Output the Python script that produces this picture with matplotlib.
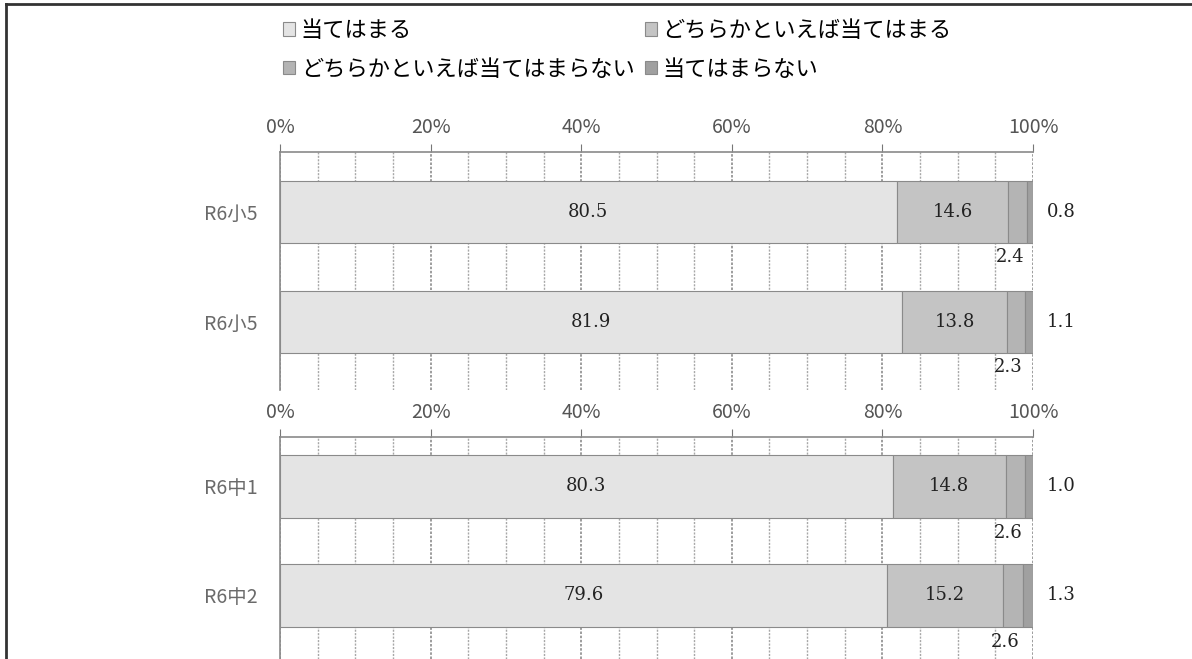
import matplotlib
matplotlib.use("Agg")
import matplotlib.pyplot as plt
import numpy as np
from matplotlib.lines import Line2D

plt.rcParams['font.family'] = ['Noto Sans CJK JP', 'DejaVu Sans']

series_names = ["当てはまる", "どちらかといえば当てはまる",
                "どちらかといえば当てはまらない", "当てはまらない"]
colors = ["#e4e4e4", "#c4c4c4", "#b4b4b4", "#a0a0a0"]

top_categories = ["R6小5", "R6小5"]
top_values = [
    [80.5, 81.9],   # 当てはまる
    [14.6, 13.8],   # どちらかといえば当てはまる
    [2.4, 2.3],     # どちらかといえば当てはまらない
    [0.8, 1.1],     # 当てはまらない
]

bottom_categories = ["R6中1", "R6中2"]
bottom_values = [
    [80.3, 79.6],
    [14.8, 15.2],
    [2.6, 2.6],
    [1.0, 1.3],
]

x_ticks = [0, 20, 40, 60, 80, 100]
x_ticklabels = ["0%", "20%", "40%", "60%", "80%", "100%"]

W, H = 1192, 659
fig = plt.figure(figsize=(W / 100, H / 100), dpi=100)

num_font = dict(family='DejaVu Serif', size=13, color='#222222')


def draw_panel(ax, cats, vals, ylim, below_off):
    vals = np.array(vals, dtype=float)
    totals = vals.sum(axis=0)
    shares = vals / totals * 100
    y = np.arange(len(cats))
    left = np.zeros(len(cats))
    containers = []
    for k in range(len(series_names)):
        c = ax.barh(y, shares[k], left=left, height=0.57, color=colors[k],
                    edgecolor='#8a8a8a', linewidth=0.8, zorder=3,
                    label=series_names[k])
        containers.append(c)
        for i in range(len(cats)):
            v = vals[k][i]
            mid = left[i] + shares[k][i] / 2
            if k in (0, 1):
                ax.text(mid, y[i], f"{v:.1f}", ha='center', va='center',
                        zorder=5, **num_font)
            elif k == 2:
                ax.text(mid - 1.0, y[i] + below_off, f"{v:.1f}", ha='center',
                        va='center', zorder=5, **num_font)
            else:
                ax.text(103.8, y[i], f"{v:.1f}", ha='center', va='center',
                        zorder=5, clip_on=False, **num_font)
        left = left + shares[k]
    ax.set_xlim(0, 100)
    ax.set_ylim(*ylim)
    ax.set_yticks(y)
    ax.set_yticklabels(cats, fontsize=14, color='#6a6a6a')
    ax.tick_params(axis='y', length=0, pad=16)
    ax.xaxis.tick_top()
    ax.set_xticks(x_ticks)
    ax.set_xticklabels(x_ticklabels, fontsize=14, color='#555555')
    ax.set_xticks(np.arange(0, 101, 5), minor=True)
    ax.tick_params(axis='x', which='major', direction='out', length=6,
                   color='#777777', pad=4)
    ax.tick_params(axis='x', which='minor', length=0)
    ax.grid(axis='x', which='major', color='#8c8c8c', linewidth=1.2,
            linestyle=(0, (1.5, 1)), zorder=1)
    ax.grid(axis='x', which='minor', color='#a8a8a8', linewidth=1.0,
            linestyle=(0, (1.5, 1)), zorder=1)
    ax.set_axisbelow(True)
    for s in ('right', 'bottom'):
        ax.spines[s].set_visible(False)
    for s in ('left', 'top'):
        ax.spines[s].set_color('#8a8a8a')
        ax.spines[s].set_linewidth(1.2)
    return containers


ax1 = fig.add_axes([280 / W, 1 - 390 / H, 753 / W, (390 - 152) / H])
ax2 = fig.add_axes([280 / W, 0.0, 753 / W, (659 - 437) / H])

cont = draw_panel(ax1, top_categories, top_values, (1.618, -0.545), 0.41)
draw_panel(ax2, bottom_categories, bottom_values, (1.583, -0.454), 0.43)

order = [0, 2, 1, 3]
fig.legend([cont[i] for i in order], [series_names[i] for i in order],
           loc='upper left', bbox_to_anchor=(283 / W, 1 - 19 / H), ncol=2,
           frameon=False, prop={'size': 16}, handlelength=0.55,
           handleheight=0.55, handletextpad=0.25, columnspacing=0.45,
           labelspacing=0.7, borderaxespad=0, borderpad=0)

# outer frame of the chart
fig.add_artist(Line2D([6 / W, 1.0], [1 - 4 / H, 1 - 4 / H],
                      transform=fig.transFigure, color='#333333', linewidth=2))
fig.add_artist(Line2D([6 / W, 6 / W], [0, 1 - 4 / H],
                      transform=fig.transFigure, color='#333333', linewidth=2))

fig.savefig("out.png", dpi=100)
